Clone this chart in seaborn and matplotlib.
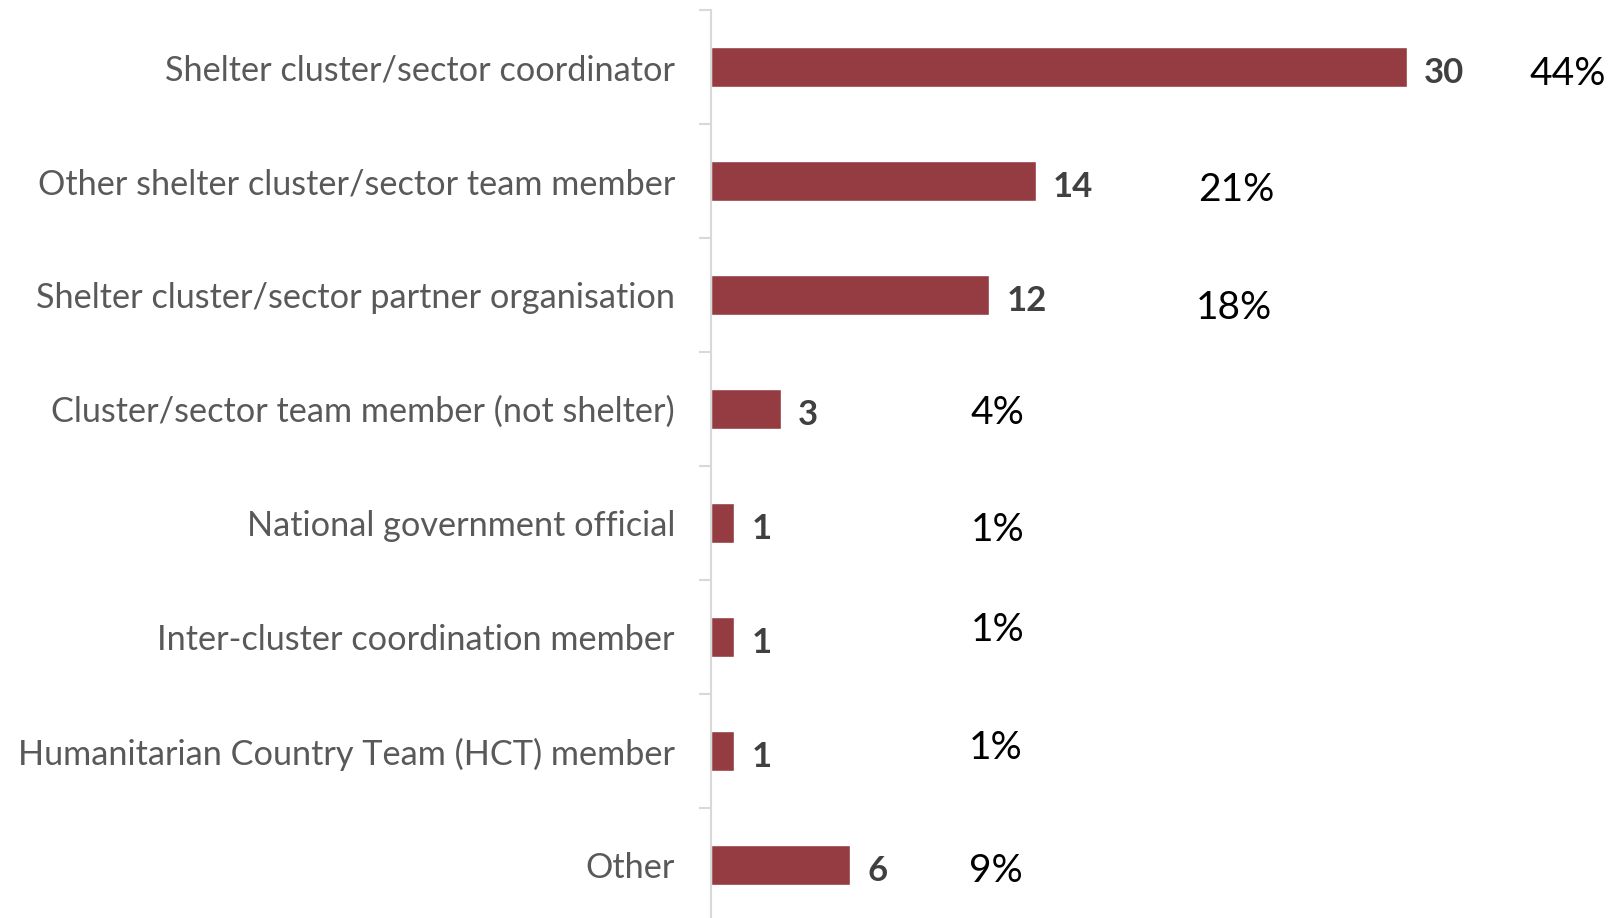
import matplotlib
matplotlib.use("Agg")
import matplotlib.pyplot as plt
import seaborn as sns
import pandas as pd
from matplotlib.ticker import FixedLocator

# Data
roles = [
    "Shelter cluster/sector coordinator",
    "Other shelter cluster/sector team member",
    "Shelter cluster/sector partner organisation",
    "Cluster/sector team member (not shelter)",
    "National government official",
    "Inter-cluster coordination member",
    "Humanitarian Country Team (HCT) member",
    "Other",
]
counts = [30, 14, 12, 3, 1, 1, 1, 6]
percents = ["44%", "21%", "18%", "4%", "1%", "1%", "1%", "9%"]

# where the percentage boxes sit (they are not aligned in the original)
pct_x = [35.3, 21.0, 20.9, 11.2, 11.2, 11.2, 11.1, 11.1]
pct_dy = [0.03, 0.05, 0.08, 0.0, 0.03, -0.09, -0.06, 0.02]

df = pd.DataFrame({"role": roles, "count": counts})

sns.set_style("white")
plt.rcParams["font.family"] = ["Lato", "DejaVu Sans"]

fig = plt.figure(figsize=(16.14, 9.18), dpi=100)
ax = fig.add_axes([711 / 1614, -4 / 918, 1 - 711 / 1614, 1 - 10 / 918 + 4 / 918])

sns.barplot(data=df, y="role", x="count", orient="h", color="#943C41",
            width=0.35, saturation=1, ax=ax)

ax.set_xlim(0, 903 / 23.2)
ax.set_ylim(len(roles) - 0.5, -0.5)

# count labels
for i, c in enumerate(counts):
    ax.annotate(str(c), (c, i), xytext=(17, -3), textcoords="offset pixels",
                va="center_baseline", ha="left", fontsize=25, fontweight="bold",
                color="#404040")

# percentage labels
for i, p in enumerate(percents):
    ax.text(pct_x[i], i + pct_dy[i], p, va="center_baseline", ha="left",
            fontsize=28, color="black")

ax.set_xlabel("")
ax.set_ylabel("")
ax.set_xticks([])
for s in ["top", "right", "bottom"]:
    ax.spines[s].set_visible(False)
ax.spines["left"].set_color("#D9D9D9")
ax.spines["left"].set_linewidth(1.5)

ax.tick_params(axis="y", which="major", length=0, pad=26, labelsize=24.7,
               labelcolor="#595959")
ax.yaxis.set_minor_locator(FixedLocator([i - 0.5 for i in range(len(roles) + 1)]))
ax.tick_params(axis="y", which="minor", length=8.5, width=1.5, color="#D9D9D9", left=True)

fig.savefig("out.png", dpi=100)
